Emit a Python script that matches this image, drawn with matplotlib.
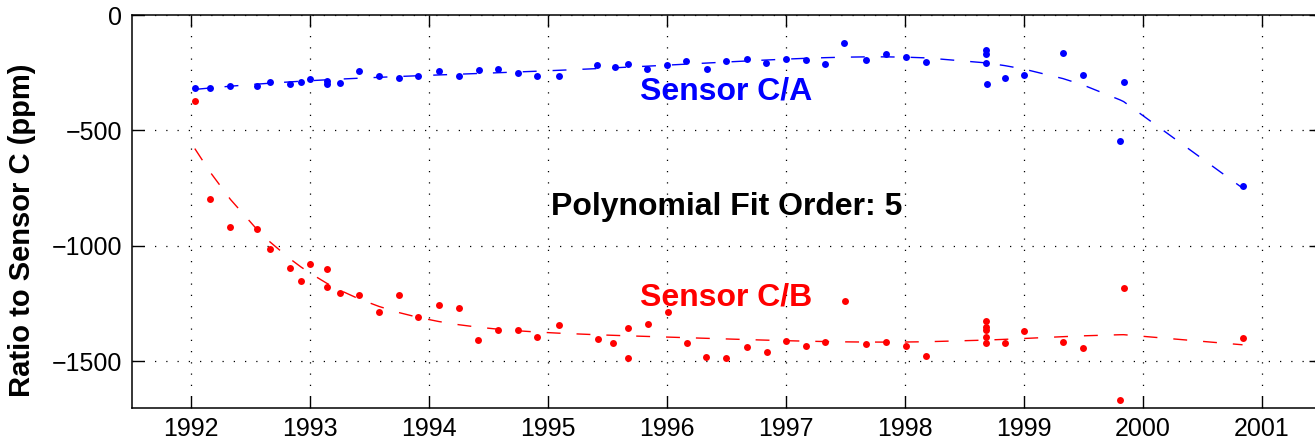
import numpy as np
import matplotlib
matplotlib.use("Agg")
import matplotlib.pyplot as plt

plt.rcParams['font.family'] = ['Liberation Sans', 'DejaVu Sans']

# Sensor C/A ratio data (ppm)
ca_year = [1992.03, 1992.16, 1992.33, 1992.55, 1992.66, 1992.83, 1992.92, 1993.00,
           1993.14, 1993.14, 1993.25, 1993.41, 1993.58, 1993.75, 1993.91, 1994.08,
           1994.25, 1994.42, 1994.58, 1994.75, 1994.91, 1995.09, 1995.41, 1995.56,
           1995.67, 1995.83, 1996.00, 1996.16, 1996.34, 1996.50, 1996.67, 1996.83,
           1997.00, 1997.17, 1997.33, 1997.49, 1997.67, 1997.84, 1998.01, 1998.18,
           1998.68, 1998.68, 1998.68, 1998.69, 1998.84, 1999.00, 1999.33, 1999.50,
           1999.81, 1999.84, 2000.84]
ca_val = [-317, -317, -306, -306, -289, -297, -289, -278,
          -286, -297, -294, -244, -264, -274, -265, -241,
          -264, -237, -235, -250, -264, -264, -218, -225,
          -214, -232, -218, -200, -232, -198, -190, -206,
          -190, -193, -212, -123, -196, -169, -180, -203,
          -153, -167, -209, -297, -271, -258, -163, -261,
          -545, -289, -742]

# Sensor C/B ratio data (ppm)
cb_year = [1992.03, 1992.16, 1992.33, 1992.55, 1992.66, 1992.83, 1992.92, 1993.00,
           1993.14, 1993.14, 1993.25, 1993.41, 1993.58, 1993.75, 1993.91, 1994.08,
           1994.25, 1994.41, 1994.58, 1994.75, 1994.91, 1995.09, 1995.42, 1995.55,
           1995.67, 1995.67, 1995.84, 1996.01, 1996.17, 1996.33, 1996.50, 1996.67,
           1996.84, 1997.00, 1997.17, 1997.33, 1997.50, 1997.67, 1997.84, 1998.01,
           1998.18, 1998.68, 1998.68, 1998.68, 1998.68, 1998.68, 1998.84, 1999.00,
           1999.33, 1999.50, 1999.81, 1999.84, 2000.84]
cb_val = [-372, -795, -916, -928, -1012, -1095, -1150, -1078,
          -1100, -1179, -1205, -1211, -1286, -1213, -1309, -1254,
          -1268, -1408, -1365, -1365, -1394, -1343, -1404, -1418,
          -1355, -1485, -1336, -1286, -1421, -1479, -1486, -1439,
          -1459, -1413, -1433, -1414, -1238, -1424, -1416, -1434,
          -1476, -1325, -1352, -1364, -1394, -1418, -1418, -1367,
          -1416, -1442, -1668, -1183, -1398]

year_ticks = list(range(1992, 2002))
val_ticks = [0, -500, -1000, -1500]
fit_order = 5

fig = plt.figure(figsize=(13.15, 4.44), dpi=100)
ax = fig.add_axes([0.1002, 0.0818, 0.9044, 0.8844])

def fit_curve(x, y, order):
    x = np.asarray(x, float)
    y = np.asarray(y, float)
    c = np.polyfit(x - 1996.0, y, order)
    xs = np.unique(x)
    return xs, np.polyval(c, xs - 1996.0)

for xs, ys, col in [(ca_year, ca_val, (0, 0, 1)), (cb_year, cb_val, (1, 0, 0))]:
    ax.plot(xs, ys, 'o', color=col, markersize=5.0, markeredgewidth=0)
    fx, fy = fit_curve(xs, ys, fit_order)
    ax.plot(fx, fy, color=col, lw=1.0, dashes=(10, 11.5))

ax.set_xlim(1991.5, 2001.5)
ax.set_ylim(-1700, 0)
ax.set_xticks(year_ticks)
ax.set_yticks(val_ticks)
ax.set_yticklabels(['0' if v == 0 else '\u2212%d' % (-v) for v in val_ticks])
ax.tick_params(direction='in', length=8.5, width=1.0, labelsize=18,
               top=True, right=True, colors='black')
ax.tick_params(axis='x', pad=7)
ax.tick_params(axis='y', pad=7)
ax.grid(True, color='black', lw=0.9, linestyle=(0, (1, 8)))
for s in ax.spines.values():
    s.set_linewidth(1.1)

ax.set_ylabel('Ratio to Sensor C (ppm)', fontsize=21, fontweight='bold', va='center')
ax.yaxis.set_label_coords(-0.092, 0.452)

ax.text(1996.50, -329, 'Sensor C/A', color=(0, 0, 1), fontsize=23,
        fontweight='bold', ha='center', va='center')
ax.text(1996.50, -1225, 'Sensor C/B', color=(1, 0, 0), fontsize=23,
        fontweight='bold', ha='center', va='center')
ax.text(1996.50, -831, 'Polynomial Fit Order: %d' % fit_order, color='black',
        fontsize=23, fontweight='bold', ha='center', va='center')

fig.savefig('out.png', dpi=100)
